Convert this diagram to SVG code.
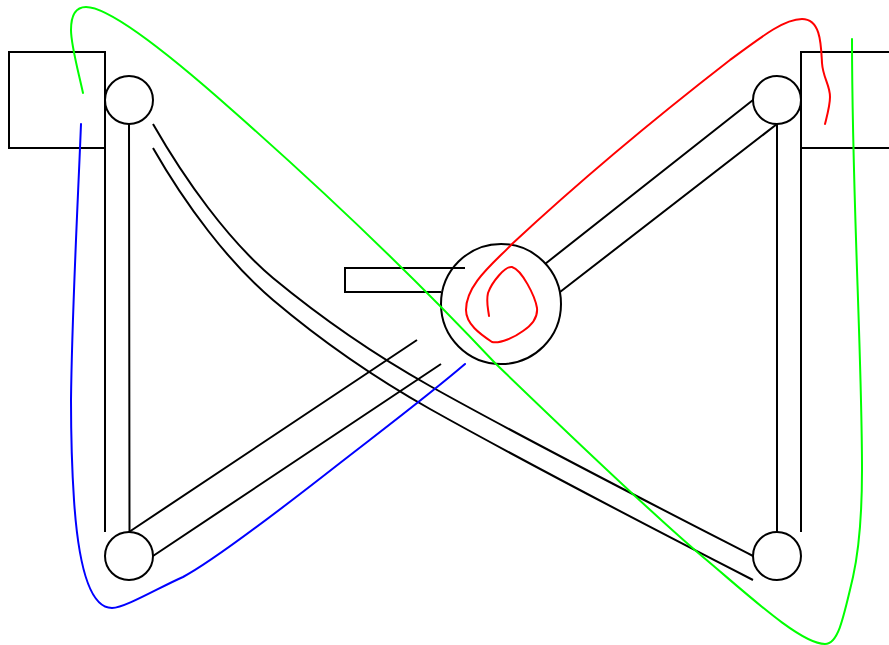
<svg xmlns="http://www.w3.org/2000/svg" width="889" height="645" viewBox="0 0 889 645">
<style>
.k{fill:none;stroke:#000;stroke-width:2}
.n{fill:none;stroke:#000;stroke-width:2}
.c{fill:none;stroke-width:2;stroke-linecap:round;stroke-linejoin:round}
</style>
<rect width="889" height="645" fill="#fff"/>
<g id="connectors">
<path class="k" d="M105 148V532M129 124L129.500 532M777 124V532M801 148V532"/>
<path class="k" d="M129 532L417 340M153 556L441 364M753 100L545 264M777 124L560 292"/>
<path class="k" d="M153 124C185 180 228 240 273 278C325 321 375 355 430 386C530 442 640 498 753 556"/>
<path class="k" d="M153 148C185 204 228 262 273 300C325 344 375 378 430 409C530 465 640 522 753 580"/>
<path class="k" d="M465 268H345V292H441"/>
</g>
<g id="box-left"><path class="k" d="M105 148H9V52H105V148"/></g>
<g id="box-right"><path class="k" d="M889 52H801V148H889"/></g>
<g id="node-top-left"><circle class="n" cx="129" cy="100" r="24"/></g>
<g id="node-top-right"><circle class="n" cx="777" cy="100" r="24"/></g>
<g id="node-bottom-left"><circle class="n" cx="129" cy="556" r="24"/></g>
<g id="node-bottom-right"><circle class="n" cx="777" cy="556" r="24"/></g>
<g id="node-center"><circle class="n" cx="501" cy="304" r="60"/></g>
<g id="strokes">
<path class="c" stroke="#00ff00" d="M83 93C78 70 71 45 71 30C71 15 76 7 86 7C108 7 160 46 232 110C300 170 400 262 495 363C580 445 650 512 703 557C745 592 800 644 825 644C838 644 843 620 853 577C860 545 862 510 862 470C862 350 852 200 852 39"/>
<path class="c" stroke="#ff0000" d="M825 124C828 112 830 105 830 97C830 85 823 78 822 63C821 45 821 19 802 19C785 19 765 34 730 60C650 122 570 190 512 244C495 262 466 284 466 310C466 324 480 334 492 342C500 344 515 337 523 331C532 325 538 318 537 308C535 296 522 270 512 267C505 266 492 282 488 293C486 302 488 308 489 316"/>
<path class="c" stroke="#0000ff" d="M81 124C78 200 72 310 71 400C71 440 72 470 74 500C78 560 88 608 112 608C125 608 160 587 183 577C215 560 280 510 340 463C385 428 430 394 465 364"/>
</g>
</svg>
